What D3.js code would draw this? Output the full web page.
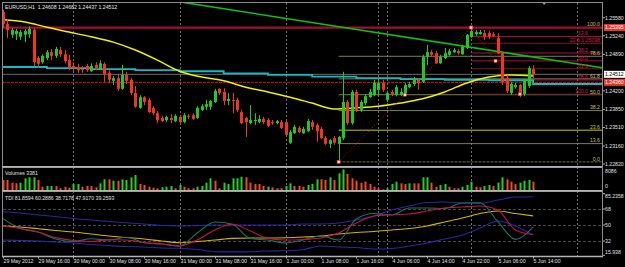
<!DOCTYPE html>
<html><head><meta charset="utf-8">
<script src="https://cdn.jsdelivr.net/npm/d3@7/dist/d3.min.js"></script>
<style>
html,body{margin:0;padding:0;background:#000;overflow:hidden}
svg{display:block}
</style></head><body>
<svg id="chart" width="625" height="267"></svg>
<script>
// ================= DATA =================
const headerText = "EURUSD,H1  1.24608 1.24682 1.24437 1.24512";
const opens = [1.2569,1.2546,1.2526,1.2527,1.2522,1.2526,1.2527,1.2535,1.2482,1.2474,
1.2482,1.2493,1.2486,1.2497,1.2489,1.2478,1.2467,1.2465,1.2461,1.2467,
1.2457,1.2469,1.2461,1.2471,1.2454,1.2439,1.2444,1.2424,1.2450,1.2441,
1.2416,1.2388,1.2408,1.2403,1.2388,1.2378,1.2369,1.2365,1.2369,1.2363,
1.2371,1.2361,1.2373,1.2374,1.2369,1.2384,1.2390,1.2390,1.2399,1.2424,
1.2418,1.2401,1.2403,1.2403,1.2380,1.2369,1.2359,1.2363,1.2361,1.2367,
1.2365,1.2361,1.2359,1.2361,1.2361,1.2322,1.2340,1.2350,1.2340,1.2344,
1.2361,1.2356,1.2348,1.2331,1.2320,1.2331,1.2320,1.2331,1.2399,1.2359,
1.2418,1.2384,1.2397,1.2408,1.2412,1.2422,1.2435,1.2403,1.2418,1.2412,
1.2412,1.2416,1.2427,1.2433,1.2442,1.2437,1.2484,1.2493,1.2491,1.2472,
1.2482,1.2488,1.2493,1.2495,1.2489,1.2501,1.2522,1.2527,1.2527,1.2529,
1.2529,1.2527,1.2520,1.2491,1.2444,1.2416,1.2427,1.2431,1.2414,1.2429,
1.24608];
const highs = [1.2573,1.2554,1.2539,1.2537,1.2535,1.2537,1.2542,1.2539,1.2486,1.2489,
1.2497,1.2499,1.2503,1.2503,1.2497,1.2488,1.2474,1.2471,1.2467,1.2471,
1.2472,1.2474,1.2478,1.2474,1.2459,1.2448,1.2452,1.2469,1.2456,1.2444,
1.2429,1.2412,1.2410,1.2407,1.2391,1.2382,1.2373,1.2373,1.2376,1.2376,
1.2374,1.2378,1.2376,1.2378,1.2391,1.2395,1.2403,1.2403,1.2424,1.2425,
1.2425,1.2416,1.2416,1.2407,1.2384,1.2371,1.2393,1.2378,1.2374,1.2371,
1.2369,1.2365,1.2365,1.2365,1.2363,1.2346,1.2356,1.2354,1.2352,1.2367,
1.2365,1.2359,1.2352,1.2335,1.2329,1.2335,1.2335,1.2456,1.2403,1.2422,
1.2422,1.2403,1.2414,1.2424,1.2441,1.2439,1.2441,1.2420,1.2422,1.2431,
1.2425,1.2435,1.2437,1.2446,1.2444,1.2488,1.2507,1.2497,1.2495,1.2488,
1.2501,1.2499,1.2501,1.2499,1.2507,1.2527,1.2540,1.2535,1.2535,1.2535,
1.2533,1.2531,1.2529,1.2493,1.2450,1.2437,1.2435,1.2433,1.2442,1.2467,
1.24682];
const lows = [1.2539,1.2520,1.2520,1.2516,1.2516,1.2512,1.2520,1.2467,1.2463,1.2471,
1.2478,1.2478,1.2482,1.2484,1.2472,1.2459,1.2456,1.2454,1.2454,1.2456,
1.2456,1.2459,1.2459,1.2437,1.2435,1.2431,1.2420,1.2422,1.2433,1.2412,
1.2388,1.2386,1.2393,1.2378,1.2374,1.2359,1.2361,1.2361,1.2359,1.2361,
1.2359,1.2359,1.2367,1.2365,1.2367,1.2382,1.2384,1.2384,1.2397,1.2412,
1.2393,1.2393,1.2378,1.2380,1.2357,1.2333,1.2357,1.2356,1.2359,1.2357,
1.2352,1.2356,1.2357,1.2348,1.2335,1.2320,1.2339,1.2340,1.2339,1.2342,
1.2346,1.2324,1.2329,1.2318,1.2312,1.2318,1.2286,1.2327,1.2356,1.2356,
1.2380,1.2380,1.2393,1.2407,1.2410,1.2410,1.2418,1.2399,1.2410,1.2410,
1.2410,1.2412,1.2425,1.2429,1.2422,1.2435,1.2469,1.2484,1.2471,1.2471,
1.2480,1.2486,1.2491,1.2488,1.2488,1.2499,1.2520,1.2524,1.2526,1.2516,
1.2518,1.2522,1.2489,1.2431,1.2416,1.2412,1.2425,1.2408,1.2410,1.2425,
1.24437];
const closes = [1.2546,1.2535,1.2535,1.2533,1.2531,1.2533,1.2537,1.2474,1.2471,1.2486,
1.2493,1.2486,1.2499,1.2489,1.2476,1.2465,1.2463,1.2459,1.2459,1.2459,
1.2467,1.2463,1.2472,1.2452,1.2441,1.2444,1.2424,1.2450,1.2439,1.2416,
1.2390,1.2408,1.2399,1.2380,1.2378,1.2365,1.2363,1.2371,1.2365,1.2373,
1.2361,1.2374,1.2371,1.2367,1.2388,1.2391,1.2395,1.2401,1.2420,1.2416,
1.2401,1.2405,1.2401,1.2384,1.2359,1.2361,1.2365,1.2365,1.2367,1.2361,
1.2354,1.2359,1.2363,1.2350,1.2337,1.2342,1.2352,1.2342,1.2348,1.2363,
1.2352,1.2344,1.2331,1.2320,1.2327,1.2322,1.2333,1.2399,1.2359,1.2418,
1.2384,1.2399,1.2410,1.2418,1.2435,1.2435,1.2422,1.2416,1.2414,1.2427,
1.2418,1.2431,1.2433,1.2442,1.2435,1.2484,1.2493,1.2488,1.2472,1.2484,
1.2491,1.2495,1.2497,1.2491,1.2503,1.2526,1.2533,1.2531,1.2531,1.2522,
1.2522,1.2524,1.2491,1.2437,1.2420,1.2433,1.2431,1.2414,1.2441,1.2463,
1.24512];
const volumes = [4040,4040,3000,2770,3000,4700,5080,5080,4040,1460,
1730,1730,1730,850,1460,1080,2500,2500,1460,1730,
1730,1230,2770,4310,4310,3770,3770,4310,4040,5080,
5970,2500,2120,1460,1080,850,1230,1460,1730,850,
2120,1460,850,850,1460,1730,3000,4700,3770,850,
3000,2500,4700,4700,5310,5080,3000,2500,2500,1730,
1460,1230,850,850,1730,2770,1730,1730,1460,2120,
2500,4310,4310,4040,5080,4040,6620,8086,6350,4700,
3770,3000,3390,2500,1460,850,460,850,2500,3390,
2770,2500,2770,2770,2770,5080,5080,3000,1460,2120,
2500,1460,850,850,1460,2120,3390,1460,1230,1730,
2120,1730,3000,5080,4310,3390,2500,3000,3770,4040,
3381];
const volumeUp = [0,0,0,0,1,1,1,1,0,0,
1,1,0,0,0,0,1,1,0,0,
0,0,1,1,0,1,0,1,1,1,
1,0,0,0,0,0,1,1,1,0,
1,0,0,0,1,1,1,1,0,0,
1,1,1,1,1,0,0,0,0,0,
1,0,0,0,1,1,0,0,0,1,
1,1,0,0,1,0,1,1,0,0,
0,0,0,0,0,0,0,1,1,1,
0,0,1,0,0,1,1,0,0,1,
1,0,0,0,1,1,1,0,0,1,
1,0,1,1,0,0,0,1,1,1,
0];
const timeTickBars = [0,8,16,24,32,40,48,56,64,72,80,88,96,104,112,120];
const timeTickLabels = ["29 May 2012","29 May 16:00","30 May 00:00","30 May 08:00","30 May 16:00","31 May 00:00","31 May 08:00","31 May 16:00","1 Jun 00:00","1 Jun 08:00","1 Jun 16:00","4 Jun 06:00","4 Jun 14:00","4 Jun 22:00","5 Jun 06:00","5 Jun 14:00"];
const separatorBars = [16,40,64,85,87,106,130];
const priceTicks = [1.25580,1.25240,1.24890,1.24200,1.23850,1.23510,1.23160,1.22820];
const maBars = [0,5,10,15,20,25,30,35,40,45,50,55,60,65,70,75,80,85,90,95,100,105,110,115,120];
const maYellow = [1.2554,1.2550,1.2540,1.2531,1.2522,1.2512,1.2497,1.2478,1.2457,1.2446,1.2439,1.2427,1.2418,1.2408,1.2397,1.2386,1.2388,1.2391,1.2397,1.2405,1.2418,1.2435,1.2446,1.2450,1.2448];
const cyanBars = [0,10,20,30,40,50,60,70,80,90,100,110,120,136];
const maCyan = [1.2465,1.2463,1.2461,1.2459,1.2457,1.2453,1.2450,1.2447,1.2444,1.2442,1.2441,1.2440,1.2433,1.2431];
const trendBars = [40,136];
const trendPrices = [1.2588,1.2463];
const resistPrice = 1.25395;
const dashedPrice = 1.24360;
const bidPrice = 1.24512;
const fibLevels = [0,13.6,23.6,38.2,50,61.8,78.6,100];
const fib1Bars = [76,106], fib1Prices = [1.2286,1.25395];
const fib2Bars = [106,117], fib2Prices = [1.25395,1.24137];
const volTicks = [8086,0];
const volLegend = "Volumes 3381";
const tdiBars = [0,4,8,12,16,20,24,28,32,36,40,44,48,52,56,60,64,68,72,76,80,84,88,92,96,100,104,108,112,116,120];
const tdiUpper = [65.0,63.5,61.3,59.6,57.3,55.6,53.9,52.6,51.1,49.4,48.9,49.4,50,50,50,50,50,51.1,51.1,52.3,55.6,60.1,66.9,71.4,75.3,75.9,74.8,74.4,78.1,81.5,81.8594];
const tdiLower = [33.1,32.6,32.0,30.9,29.8,28.1,26.9,25.8,25.3,24.1,23.8,22.4,20.0,19.8,20.0,20.8,21.1,22.4,26.4,25.3,24.7,23.0,23.6,26.4,29.8,34.3,38.8,46.6,54.5,48.9,38.7178];
const tdiBase = [48.9,47.8,45.8,43.8,42.1,39.9,37.6,35.9,34.3,32.0,30.1,31.4,33.1,35.0,35.4,35.4,35.7,36.5,37.6,39.9,41.6,42.7,44.4,46.1,48.9,53.4,57.9,62.9,65.8,62.9,60.2886];
const tdiSignal = [48.9,46.1,42.1,35.9,32.6,31.4,33.5,33.1,30.3,28.6,26.4,33.1,44.4,50.8,43.3,35.0,33.1,33.7,35.4,41.0,52.3,60.1,61.6,62.4,65.8,69.1,70.3,71.4,67.0,44.4,39.2593];
const tdiRsi = [57.5,46.1,42.1,34.3,31.4,34.6,33.1,36.2,30.1,28.6,26.4,41.0,53.4,50.8,34.8,33.1,29.8,33.1,37.6,33.1,56.8,62.9,61.3,69.1,69.1,68.6,74.8,75.1,54.0,33.9,47.9170];
const tdiLevels = [68,50,32];
const tdiTicks = [85.2358,68,50,32,15.938];
const tdiTickLabels = ["85.2358","68","50","32","15.938"];
const tdiLegend = "TDI 81.8594 60.2886 38.7178 47.9170 39.2593";

// ================= LAYOUT =================
const svg = d3.select("#chart");
const FONT = "'Liberation Sans', Arial, sans-serif";
const FS = 5.2;
const X0 = 3, X1 = 602;
const P_MAIN = {top:3, bottom:166}, P_VOL = {top:168, bottom:190}, P_TDI = {top:192, bottom:256};

const x = d3.scaleLinear().domain([0,120]).range([2.7,533.1]);
const y = d3.scaleLinear().domain([1.2282,1.2489]).range([164.0,54.3]);
const yv = d3.scaleLinear().domain([0,8086]).range([190.5,169.5]);
const yt = d3.scaleLinear().domain([15.938,85.2358]).range([255.3,193.7]);

svg.append("rect").attr("width",625).attr("height",267).attr("fill","#000");

const defs = svg.append("defs");
function clip(id,p){ defs.append("clipPath").attr("id",id).append("rect")
  .attr("x",X0).attr("y",p.top).attr("width",X1-X0).attr("height",p.bottom-p.top); }
clip("cMain",P_MAIN); clip("cVol",P_VOL); clip("cTdi",P_TDI);

function txt(xx,yy,s,col,anchor){
  return svg.append("text").attr("x",xx).attr("y",yy).attr("font-family",FONT).attr("font-size",FS)
    .attr("fill",col).attr("text-anchor",anchor||"start").style("white-space","pre").text(s);
}

// period separators
svg.append("g").selectAll("line").data(separatorBars).join("line")
  .attr("x1",d=>Math.round(x(d))+0.5).attr("x2",d=>Math.round(x(d))+0.5)
  .attr("y1",P_MAIN.top).attr("y2",P_TDI.bottom)
  .attr("stroke","#8a8a8a").attr("stroke-width",0.8).attr("stroke-dasharray","2,2");

// ---------- MAIN PANEL ----------
const gm = svg.append("g").attr("clip-path","url(#cMain)");

const f1lo = fib1Prices[0], f1hi = fib1Prices[1];
fibLevels.forEach(l=>{
  const p = f1lo + (f1hi-f1lo)*l/100, yy = y(p);
  gm.append("line").attr("x1",x(fib1Bars[0])).attr("x2",X1).attr("y1",yy).attr("y2",yy)
    .attr("stroke", l===23.6 ? "#c8c800" : (l===0 ? "#6e6e30" : "#7f7f4c"))
    .attr("stroke-width",1).attr("stroke-dasharray", l===0 ? "3,1" : null);
});
const f2hi = fib2Prices[0], f2lo = fib2Prices[1];
fibLevels.forEach(l=>{
  if(l===0) return;
  const p = f2hi - (f2hi-f2lo)*l/100, yy = y(p);
  gm.append("line").attr("x1",x(fib2Bars[0])).attr("x2",X1).attr("y1",yy).attr("y2",yy)
    .attr("stroke", (l===23.6||l===61.8||l===100) ? "#7a1a1a" : "#b0103c").attr("stroke-width",1);
});

gm.append("line").attr("x1",X0).attr("x2",X1).attr("y1",y(bidPrice)).attr("y2",y(bidPrice))
  .attr("stroke","#6c6c6c").attr("stroke-width",1);
gm.append("line").attr("x1",X0).attr("x2",X1).attr("y1",y(resistPrice)).attr("y2",y(resistPrice))
  .attr("stroke","#a0102e").attr("stroke-width",2.2);
gm.append("line").attr("x1",X0).attr("x2",X1).attr("y1",y(dashedPrice)).attr("y2",y(dashedPrice))
  .attr("stroke","#e01010").attr("stroke-width",1).attr("stroke-dasharray","3,1");

gm.append("path").datum(cyanBars.map((b,i)=>[b,maCyan[i]]))
  .attr("d",d3.line().x(d=>x(d[0])).y(d=>y(d[1])).curve(d3.curveStepAfter))
  .attr("fill","none").attr("stroke","#18b8c4").attr("stroke-width",1.8);
gm.append("line").attr("x1",x(trendBars[0])).attr("y1",y(trendPrices[0]))
  .attr("x2",x(trendBars[1])).attr("y2",y(trendPrices[1]))
  .attr("stroke","#10c010").attr("stroke-width",1.6);
gm.append("path").datum(maBars.map((b,i)=>[b,maYellow[i]]))
  .attr("d",d3.line().x(d=>x(d[0])).y(d=>y(d[1])).curve(d3.curveMonotoneX))
  .attr("fill","none").attr("stroke","#f0f000").attr("stroke-width",1.5);

[[fib1Bars,fib1Prices],[fib2Bars,fib2Prices]].forEach(([b,p])=>{
  gm.append("line").attr("x1",x(b[0])).attr("y1",y(p[0])).attr("x2",x(b[1])).attr("y2",y(p[1]))
    .attr("stroke","#c01818").attr("stroke-width",1).attr("stroke-dasharray","1,2");
});

const cg = gm.append("g");
opens.forEach((o,i)=>{
  const c = closes[i], up = c>=o, col = up ? "#20c820" : "#f0361c";
  const xx = Math.round(x(i))+0.5;
  cg.append("line").attr("x1",xx).attr("x2",xx).attr("y1",y(highs[i])).attr("y2",y(lows[i]))
    .attr("stroke",col).attr("stroke-width",1);
  const top = y(Math.max(o,c)), bot = y(Math.min(o,c));
  cg.append("rect").attr("x",xx-1.5).attr("width",3).attr("y",top).attr("height",Math.max(1,bot-top))
    .attr("fill",col);
});

[[fib1Bars,fib1Prices],[fib2Bars,fib2Prices]].forEach(([b,p])=>{
  const pts = [[b[0],p[0]],[(b[0]+b[1])/2,(p[0]+p[1])/2],[b[1],p[1]]];
  pts.forEach(q=>gm.append("rect").attr("x",x(q[0])-1.5).attr("y",y(q[1])-1.5)
    .attr("width",3).attr("height",3).attr("fill","#ffe0e0").attr("stroke","#ff2020").attr("stroke-width",0.6));
});

fibLevels.forEach(l=>{
  const p = f1lo + (f1hi-f1lo)*l/100;
  txt(600, y(p)-1.2, l.toFixed(1), "#c8c060", "end");
});
fibLevels.forEach(l=>{
  if(l===0) return;
  const p = f2hi - (f2hi-f2lo)*l/100;
  const t = l===23.6 ? l.toFixed(1)+" "+p.toFixed(5) : l.toFixed(1);
  txt(l===23.6 ? 600 : 588, y(p)-1.2, t, "#d02050", "end");
});

svg.append("path").attr("d",`M${x(122.5)-2.5},2 L${x(122.5)+2.5},2 L${x(122.5)},5 Z`).attr("fill","#9a9a9a");

txt(5, 8.5, headerText, "#e8e8e8");

// ---------- VOLUME PANEL ----------
const gv = svg.append("g").attr("clip-path","url(#cVol)");
volumes.forEach((v,i)=>{
  const xx = Math.round(x(i));
  gv.append("rect").attr("x",xx-0.5).attr("width",2).attr("y",yv(v)).attr("height",yv(0)-yv(v))
    .attr("fill", volumeUp[i] ? "#22d022" : "#f24a1a");
});
txt(5, 174.5, volLegend, "#e0e0e0");

// ---------- TDI PANEL ----------
const gt = svg.append("g").attr("clip-path","url(#cTdi)");
tdiLevels.forEach(l=>{
  gt.append("line").attr("x1",X0).attr("x2",X1).attr("y1",Math.round(yt(l))+0.5).attr("y2",Math.round(yt(l))+0.5)
    .attr("stroke","#5a5a5a").attr("stroke-width",0.8).attr("stroke-dasharray","3,2");
});
const tline = d3.line().x((d,i)=>x(tdiBars[i])).y(d=>yt(d)).curve(d3.curveMonotoneX);
[[tdiUpper,"#2828a8"],[tdiLower,"#2828a8"],[tdiBase,"#d8b400"],[tdiRsi,"#127a62"],[tdiSignal,"#c81440"]]
  .forEach(([arr,col])=>gt.append("path").attr("d",tline(arr)).attr("fill","none").attr("stroke",col).attr("stroke-width",1.1));
txt(5, 200, tdiLegend, "#e0e0e0");

// ---------- FRAMES ----------
[P_MAIN,P_VOL,P_TDI].forEach(p=>{
  svg.append("rect").attr("x",2.5).attr("y",p.top-0.5).attr("width",X1-2).attr("height",p.bottom-p.top+1)
    .attr("fill","none").attr("stroke","#8c8c8c").attr("stroke-width",1);
});
[P_MAIN.bottom+0.8, P_VOL.bottom+0.8, P_TDI.bottom+0.5].forEach(yy=>{
  svg.append("line").attr("x1",2).attr("x2",603).attr("y1",yy).attr("y2",yy)
    .attr("stroke","#b4b4b4").attr("stroke-width",1.6);
});

// ---------- PRICE AXIS ----------
const axisX = 605;
priceTicks.forEach(p=>{
  const yy = y(p);
  svg.append("line").attr("x1",X1).attr("x2",X1+3).attr("y1",yy).attr("y2",yy).attr("stroke","#b0b0b0");
  txt(axisX, yy+1.9, p.toFixed(5), "#e0e0e0");
});
function priceBox(p, fill, txtCol){
  const yy = y(p);
  svg.append("rect").attr("x",604).attr("y",yy-3.5).attr("width",21).attr("height",7).attr("fill",fill);
  txt(axisX, yy+1.9, p.toFixed(5), txtCol);
}
priceBox(resistPrice,"#e4382a","#ffffff");
priceBox(bidPrice,"#ffffff","#000000");
priceBox(dashedPrice,"#e4382a","#ffffff");

volTicks.forEach(v=>{
  const yy = Math.min(Math.max(yv(v), P_VOL.top+3), P_VOL.bottom-3.5);
  txt(axisX, yy+1.9, String(v), "#e0e0e0");
});
tdiTicks.forEach((v,i)=>{
  const yy = Math.min(Math.max(yt(v), P_TDI.top+4.5), P_TDI.bottom-4.3);
  svg.append("line").attr("x1",X1).attr("x2",X1+3).attr("y1",yt(v)).attr("y2",yt(v)).attr("stroke","#b0b0b0");
  txt(axisX, yy+1.9, tdiTickLabels[i], "#e0e0e0");
});
svg.append("line").attr("x1",X1+0.5).attr("x2",X1+0.5).attr("y1",P_MAIN.top-0.5).attr("y2",P_TDI.bottom+0.5)
  .attr("stroke","#8c8c8c");

// ---------- TIME AXIS ----------
timeTickBars.forEach((b,i)=>{
  const xx = Math.round(x(b))+0.5;
  svg.append("line").attr("x1",xx).attr("x2",xx).attr("y1",P_TDI.bottom).attr("y2",P_TDI.bottom+2.5).attr("stroke","#b0b0b0");
  txt(xx, 262.5, timeTickLabels[i], "#e0e0e0");
});
</script>
</body></html>
